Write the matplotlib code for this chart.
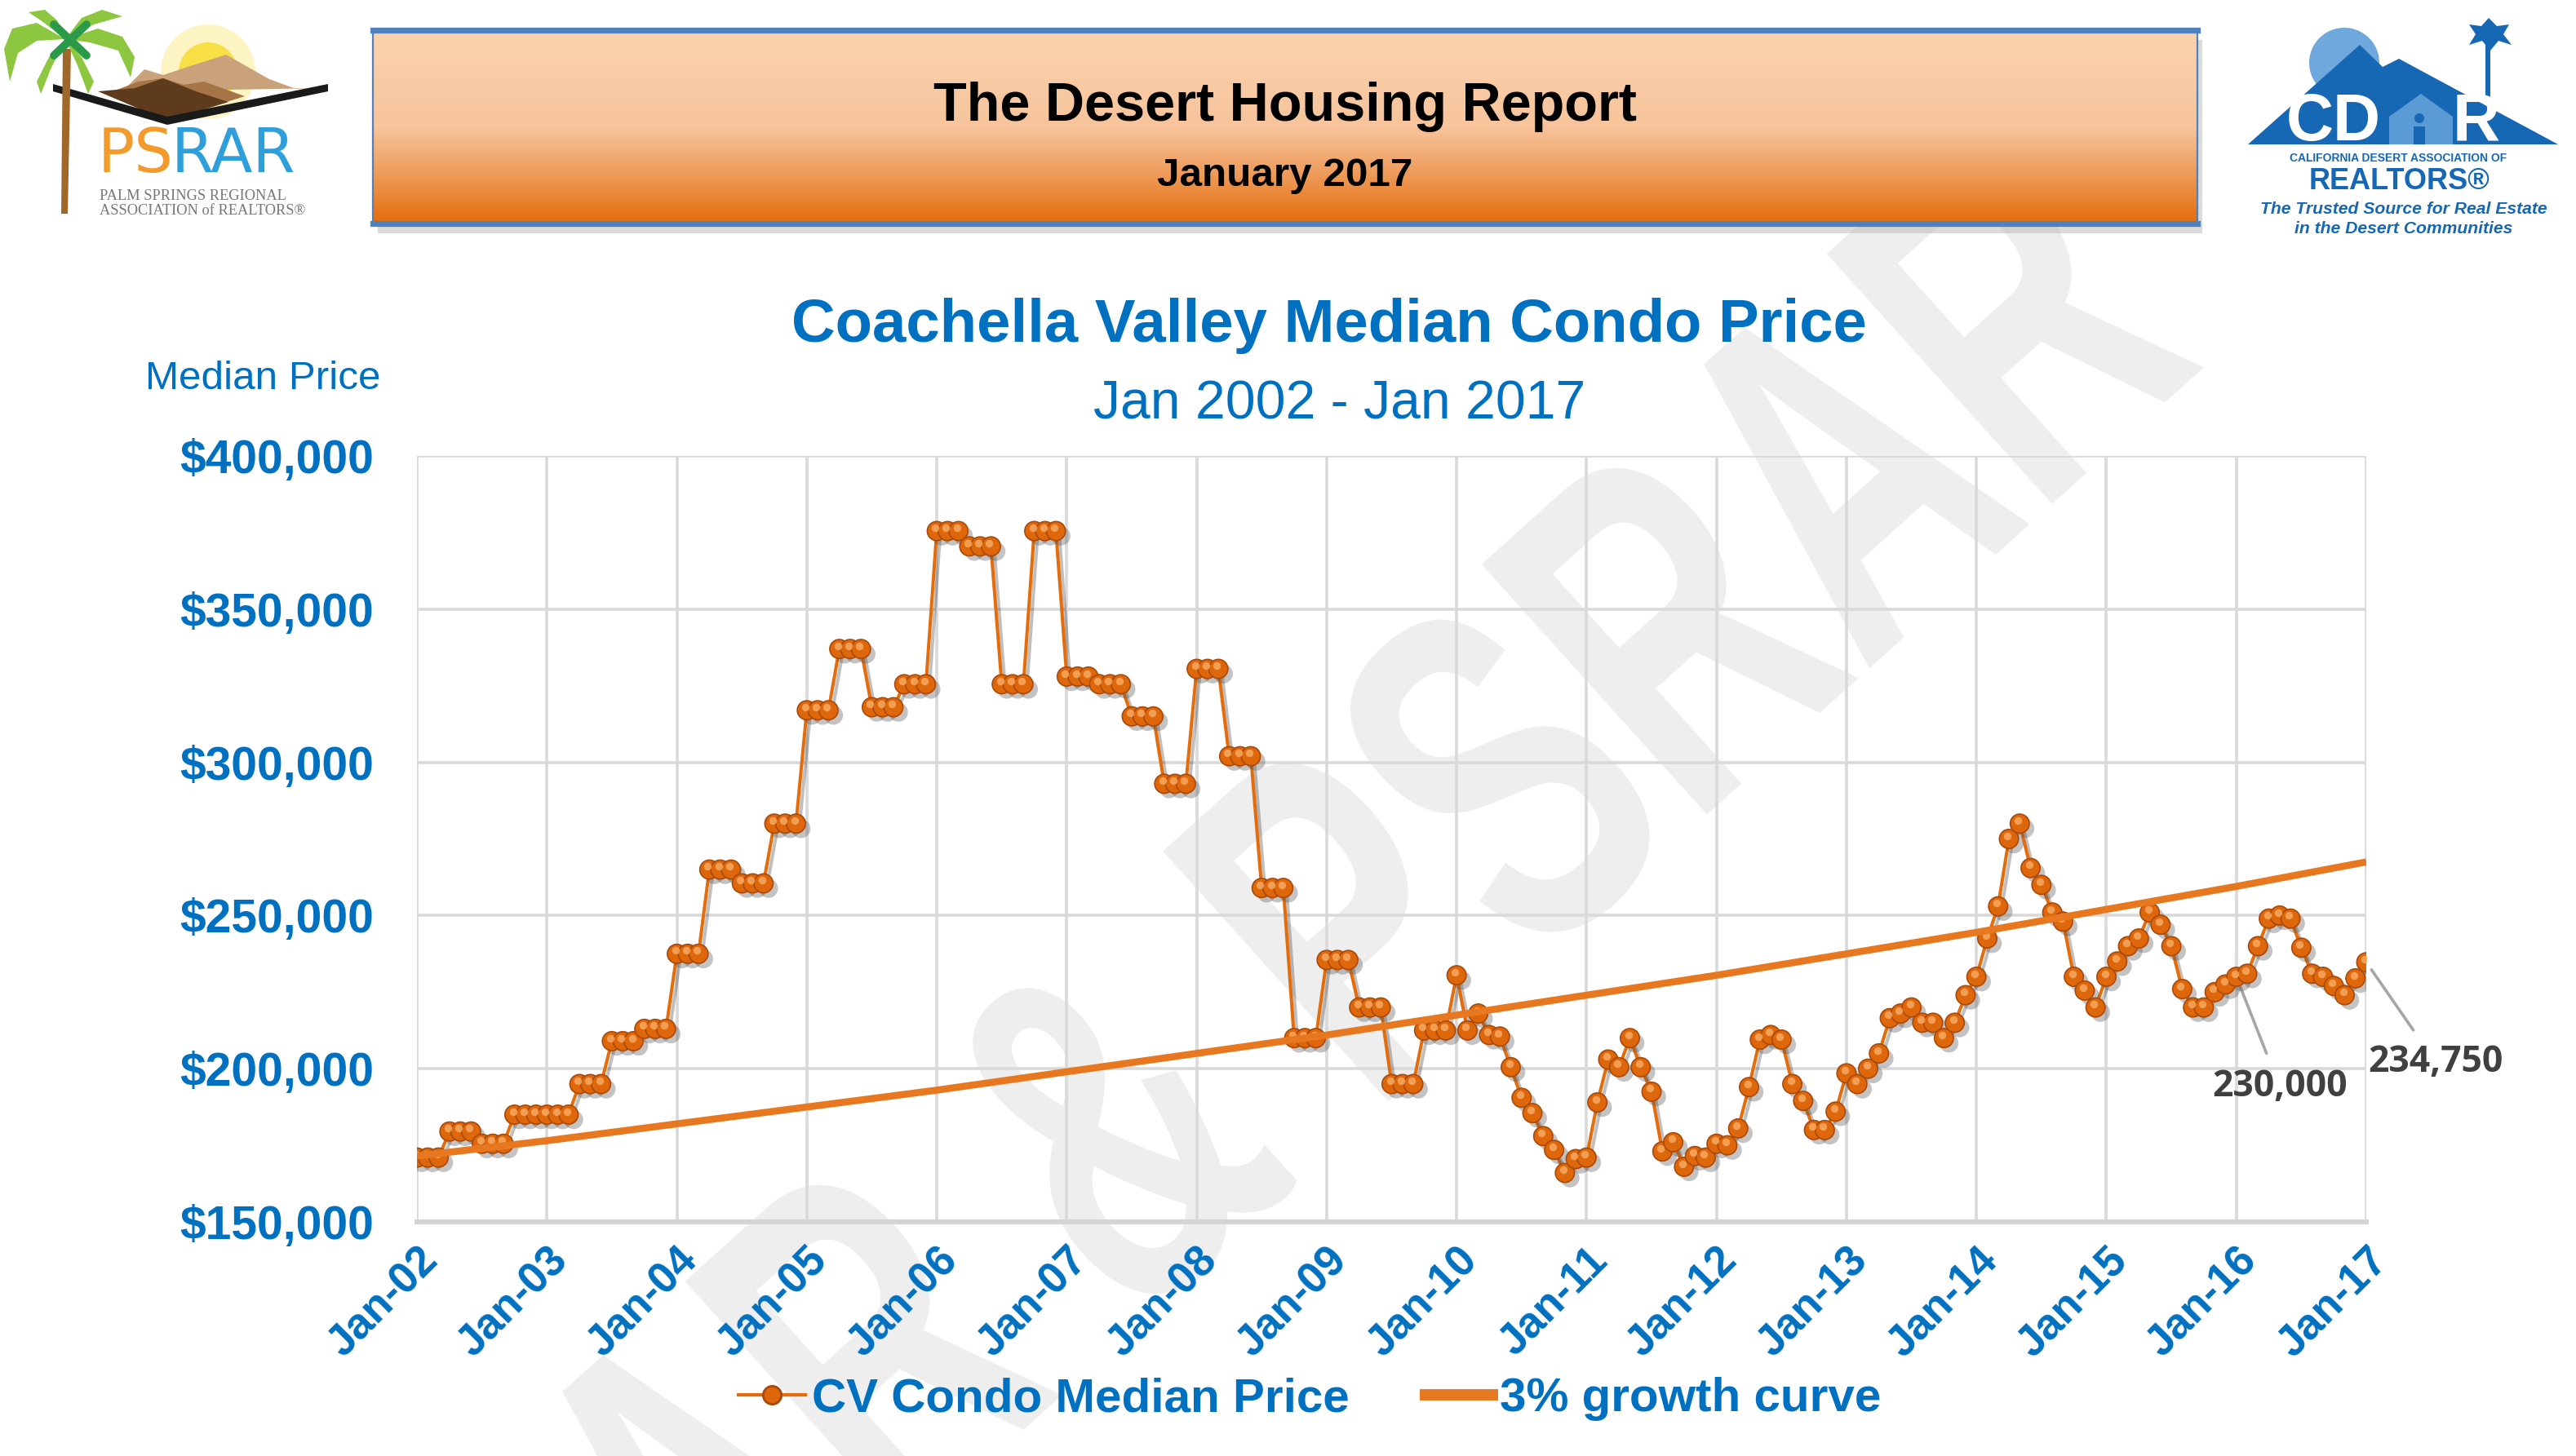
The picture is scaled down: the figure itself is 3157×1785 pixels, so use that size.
import numpy as np
import matplotlib.pyplot as plt
import matplotlib.patheffects as pe
from matplotlib.lines import Line2D
from matplotlib.patches import Rectangle, Polygon, Circle, PathPatch
from matplotlib.textpath import TextPath
from matplotlib.font_manager import FontProperties
from matplotlib.transforms import Affine2D, offset_copy
from matplotlib.colors import LinearSegmentedColormap

# monthly median condo price, Jan 2002 .. Jan 2017
p2002 = [171000, 171000, 171000, 179500, 179500, 179500, 175500, 175500, 175500, 185000, 185000, 185000]
p2003 = [185000, 185000, 185000, 195000, 195000, 195000, 209000, 209000, 209000, 213000, 213000, 213000]
p2004 = [237500, 237500, 237500, 265000, 265000, 265000, 260500, 260500, 260500, 280000, 280000, 280000]
p2005 = [317000, 317000, 317000, 337000, 337000, 337000, 318000, 318000, 318000, 325500, 325500, 325500]
p2006 = [375500, 375500, 375500, 370500, 370500, 370500, 325500, 325500, 325500, 375500, 375500, 375500]
p2007 = [328000, 328000, 328000, 325500, 325500, 325500, 315000, 315000, 315000, 293000, 293000, 293000]
p2008 = [330500, 330500, 330500, 302000, 302000, 302000, 259000, 259000, 259000, 210000, 210000, 210000]
p2009 = [235500, 235500, 235500, 220000, 220000, 220000, 195000, 195000, 195000, 212500, 212500, 212500]
p2010 = [230500, 212500, 218000, 211000, 210500, 200500, 190500, 185500, 178000, 173500, 166000, 170500]
p2011 = [171000, 189000, 203000, 200500, 210000, 200500, 192500, 173000, 176000, 168000, 171500, 171000]
p2012 = [175500, 175000, 180500, 194000, 209500, 211000, 209500, 195000, 189500, 180000, 180000, 186000]
p2013 = [198500, 195000, 200000, 205000, 216500, 218000, 220000, 215000, 215000, 210000, 215000, 224000]
p2014 = [230000, 242500, 253000, 275000, 280000, 265500, 260000, 251000, 248000, 230000, 225500, 220000]
p2015 = [230000, 235000, 240000, 242500, 251000, 247000, 240000, 226000, 220000, 220000, 225000, 227500]
p2016 = [230000, 231000, 240000, 249000, 250000, 249000, 239500, 231000, 230000, 227000, 224000, 229500]
p2017 = [234750]
median_price = (p2002 + p2003 + p2004 + p2005 + p2006 + p2007 + p2008 + p2009
                + p2010 + p2011 + p2012 + p2013 + p2014 + p2015 + p2016 + p2017)

# 3% growth curve, value each January
growth_curve = [171500, 176500, 182000, 187500, 193000, 199000, 205000, 211000,
                217500, 224000, 230500, 237500, 244500, 252000, 259500, 267500]

tick_labels = ['Jan-02', 'Jan-03', 'Jan-04', 'Jan-05', 'Jan-06', 'Jan-07', 'Jan-08', 'Jan-09',
               'Jan-10', 'Jan-11', 'Jan-12', 'Jan-13', 'Jan-14', 'Jan-15', 'Jan-16', 'Jan-17']
y_ticks = [150000, 200000, 250000, 300000, 350000, 400000]
y_labels = ['$150,000', '$200,000', '$250,000', '$300,000', '$350,000', '$400,000']

# labelled points: (month index, value, text)
callouts = [(168, 230000, '230,000'), (180, 234750, '234,750')]

BLUE = '#0070c0'
ORANGE = '#e46c0a'
TREND = '#e8781f'

plt.rcParams['font.family'] = ['Liberation Sans', 'DejaVu Sans']

W, H = 3157, 1785
fig = plt.figure(figsize=(W / 200, H / 200), dpi=200)


def fx(px):
    return px / W


def fy(py):
    return 1 - py / H


# big watermark behind everything
fp = FontProperties(family='Liberation Sans', weight='bold')
tp = TextPath((0, 0), 'CDAR & PSRAR', size=1, prop=fp)
wm_tr = (Affine2D().translate(-3.527, -0.36).scale(394 / 200, 600 / 200).rotate_deg(42)
         .translate(1350 / 200, (H - 1376) / 200) + fig.dpi_scale_trans)
fig.add_artist(PathPatch(tp, transform=wm_tr, facecolor='#eeeeee', edgecolor='none', zorder=-1))

# ---- main chart ----
ax = fig.add_axes([fx(511), fy(1498), fx(2900) - fx(511), fy(559) - fy(1498)])
ax.set_facecolor('none')
months = np.arange(len(median_price))
jan_months = np.arange(0, len(median_price), 12)

ax.plot(months, median_price, color=ORANGE, lw=1.45, zorder=3,
        path_effects=[pe.SimpleLineShadow(offset=(1.5, -1.5), alpha=0.25), pe.Normal()])
ax.plot(months, median_price, ls='none', marker='o', ms=8.4, mfc='#de670b', mec='#a9490a', mew=0.6,
        zorder=4, path_effects=[pe.SimplePatchShadow(offset=(2.2, -2.2), alpha=0.35, shadow_rgbFace='#555555'),
                                pe.Normal()])
ax.plot(months, median_price, ls='none', marker='o', ms=3.4, mfc='#f6a860', mec='none', alpha=0.85,
        zorder=5, transform=offset_copy(ax.transData, fig=fig, x=-0.7, y=1.4, units='points'))
ax.plot(jan_months, growth_curve, color=TREND, lw=3.1, zorder=6, solid_capstyle='butt')

ax.set_xlim(0, len(median_price) - 1)
ax.set_ylim(y_ticks[0], y_ticks[-1])
ax.set_xticks(jan_months)
ax.set_xticklabels(tick_labels, rotation=45, ha='right', rotation_mode='anchor',
                   fontsize=19, fontweight='bold', color=BLUE)
ax.set_yticks(y_ticks)
ax.set_yticklabels(y_labels, fontsize=20.5, fontweight='bold', color=BLUE)
ax.tick_params(length=0)
ax.tick_params(axis='y', pad=19)
ax.tick_params(axis='x', pad=8)
ax.grid(True, color='#d9d9d9', lw=1.3)
ax.set_axisbelow(True)
for s in ['top', 'right', 'left']:
    ax.spines[s].set_visible(False)
ax.spines['bottom'].set_color('#d4d4d4')
ax.spines['bottom'].set_linewidth(2.2)

text_pos = {'230,000': (172.0, 194100), '234,750': (186.4, 202100)}
for mx, val, lab in callouts:
    ax.annotate(lab, xy=(mx, val), xytext=text_pos[lab], ha='center', va='center',
                fontsize=16, color='#404040', family='Open Sans', weight='bold',
                annotation_clip=False,
                arrowprops=dict(arrowstyle='-', color='#a6a6a6', lw=1.3, shrinkA=5, shrinkB=4))

# titles
fig.text(0.516, fy(400), 'Coachella Valley Median Condo Price', ha='center', va='center',
         fontsize=26.8, fontweight='bold', color=BLUE)
fig.text(0.520, fy(497), 'Jan 2002 - Jan 2017', ha='center', va='center', fontsize=23.8, color=BLUE)
fig.text(0.102, 0.740, 'Median Price', ha='center', va='center', fontsize=17.8, color=BLUE)

# legend
h1 = Line2D([], [], color=ORANGE, lw=1.5, marker='o', ms=8, mfc='#de670b', mec='#a9490a')
h2 = Line2D([], [], color=TREND, lw=5)
fig.legend([h1, h2], ['CV Condo Median Price', '3% growth curve'], loc='center',
           bbox_to_anchor=(fx(1605), fy(1715)), ncol=2, frameon=False,
           prop=FontProperties(family='Liberation Sans', weight='bold', size=21), labelcolor=BLUE,
           handlelength=1.4, handletextpad=0.15, columnspacing=1.6, numpoints=1)

# ---- header banner ----
hx0, hx1, hy0, hy1 = 457, 2693, 37, 274
fig.add_artist(Rectangle((fx(hx0 + 6), fy(hy1 + 12)), fx(hx1 - hx0), fy(hy0) - fy(hy1),
                         transform=fig.transFigure, facecolor='#b0b0b0', alpha=0.45,
                         edgecolor='none', zorder=-0.5))
axh = fig.add_axes([fx(hx0), fy(hy1), fx(hx1 - hx0), fy(hy0) - fy(hy1)])
hdr_cmap = LinearSegmentedColormap.from_list(
    'hdr', [(0, '#e36c0a'), (0.25, '#ee9a58'), (0.5, '#f7c49b'), (1, '#fad3af')])
axh.imshow(np.linspace(0, 1, 256).reshape(-1, 1), aspect='auto', cmap=hdr_cmap,
           extent=[0, 1, 0, 1], origin='lower')
axh.set_xticks([])
axh.set_yticks([])
for s in ['top', 'bottom']:
    axh.spines[s].set_color('#4f81bd')
    axh.spines[s].set_linewidth(2.6)
for s in ['left', 'right']:
    axh.spines[s].set_color('#4f81bd')
    axh.spines[s].set_linewidth(0.8)
fig.text(fx((hx0 + hx1) / 2), fy(131), 'The Desert Housing Report', ha='center', va='center',
         fontsize=24, fontweight='bold', color='black')
fig.text(fx((hx0 + hx1) / 2), fy(215), 'January 2017', ha='center', va='center',
         fontsize=17.8, fontweight='bold', color='black')

# ---- PSRAR logo (left) ----
axl = fig.add_axes([0, fy(300), fx(460), fy(0) - fy(300)])
axl.set_xlim(0, 460)
axl.set_ylim(300, 0)
axl.axis('off')
axl.add_patch(Circle((255, 88), 58, color='#fdf4c4', lw=0))
axl.add_patch(Circle((255, 88), 36, color='#f8df45', lw=0))
axl.add_patch(Polygon([(150, 112), (177, 85), (200, 92), (230, 82), (277, 67), (330, 97), (360, 108),
                       (402, 108)], color='#c9a27b', lw=0))
axl.add_patch(Polygon([(130, 115), (170, 100), (200, 96), (225, 104), (250, 100), (300, 118), (205, 148)],
                      color='#a57447', lw=0))
axl.add_patch(Polygon([(120, 112), (165, 108), (200, 96), (240, 112), (280, 125), (205, 148)],
                      color='#5e3b1c', lw=0))
axl.add_patch(Polygon([(65, 103), (205, 143), (402, 103), (402, 112), (205, 153), (65, 112)],
                      color='#1a1a1a', lw=0))
axl.add_patch(Polygon([(77, 60), (87, 60), (83, 262), (75, 262)], color='#a0672b', lw=0))
fronds = [
    [(80, 48), (45, 28), (15, 35), (5, 60), (12, 100), (22, 65), (45, 50)],
    [(80, 48), (70, 25), (55, 12), (35, 15), (50, 25)],
    [(80, 48), (100, 22), (125, 12), (150, 20), (115, 30)],
    [(80, 48), (120, 35), (150, 45), (165, 70), (160, 95), (145, 62), (110, 52)],
    [(80, 48), (60, 70), (45, 100), (50, 115), (62, 85)],
    [(80, 48), (100, 70), (115, 100), (108, 115), (95, 80)],
]
for fr in fronds:
    axl.add_patch(Polygon(fr, color='#8dc63f', lw=0))
axl.plot([66, 106], [30, 68], color='#2a9a48', lw=3.5, solid_capstyle='round')
axl.plot([106, 66], [30, 68], color='#2a9a48', lw=3.5, solid_capstyle='round')
axl.text(120, 190, 'PS', fontsize=27, color='#f39a2d', family='DejaVu Sans', va='center')
axl.text(210, 190, 'RAR', fontsize=27, color='#2e9fdb', family='DejaVu Sans', va='center')
axl.text(122, 240, 'PALM SPRINGS REGIONAL', fontsize=6.6, color='#777777', family='Liberation Serif',
         va='center')
axl.text(122, 258, 'ASSOCIATION of REALTORS\u00ae', fontsize=6.6, color='#777777', family='Liberation Serif',
         va='center')

# ---- CDAR logo (right) ----
axr = fig.add_axes([fx(2700), fy(320), fx(457), fy(0) - fy(320)])
axr.set_xlim(2700, 3157)
axr.set_ylim(320, 0)
axr.axis('off')
DB = '#1768b4'
axr.add_patch(Circle((2873, 77), 43, color='#6fa8dc', lw=0))
axr.add_patch(Polygon([(2755, 177), (2892, 55), (2920, 82), (2940, 72), (3135, 177)], color=DB, lw=0))
axr.add_patch(Rectangle((3046, 40), 6, 82, color=DB, lw=0))
axr.add_patch(Polygon([(3050, 22), (3060, 32), (3075, 30), (3068, 42), (3078, 55), (3062, 50), (3052, 62),
                       (3042, 50), (3026, 55), (3034, 42), (3026, 30), (3041, 32)], color=DB, lw=0))
axr.add_patch(Polygon([(2928, 143), (2967, 115), (3006, 143), (3006, 177), (2928, 177)], color='#5b9bd5', lw=0))
axr.add_patch(Circle((2965, 145), 6, color=DB, lw=0))
axr.add_patch(Rectangle((2958, 155), 14, 22, color=DB, lw=0))
axr.text(2860, 172, 'CD', fontsize=29, fontweight='bold', color='white', ha='center', va='baseline')
axr.text(3035, 172, 'R', fontsize=29, fontweight='bold', color='white', ha='center', va='baseline')
axr.text(2939, 194, 'CALIFORNIA DESERT ASSOCIATION OF', fontsize=5.0, fontweight='bold', color=DB,
         ha='center', va='center', family=['Liberation Sans Narrow', 'Liberation Sans'])
axr.text(2940, 223, 'REALTORS\u00ae', fontsize=13, fontweight='bold', color=DB, ha='center', va='center')
axr.text(2946, 257, 'The Trusted Source for Real Estate', fontsize=7.6, fontweight='bold',
         style='italic', color=DB, ha='center', va='center')
axr.text(2946, 281, 'in the Desert Communities', fontsize=7.6, fontweight='bold',
         style='italic', color=DB, ha='center', va='center')

fig.savefig('out.png', dpi=200)
